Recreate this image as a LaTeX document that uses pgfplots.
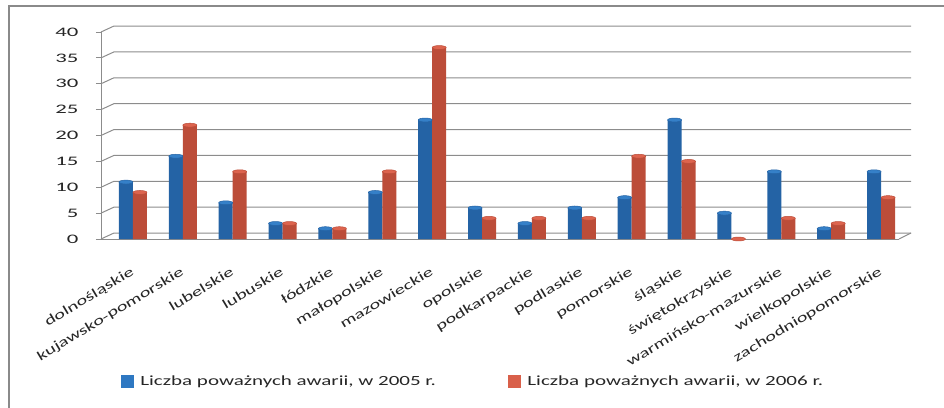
\documentclass[border=0pt]{standalone}
\usepackage{graphicx}
\usepackage{pgfplots}
\pgfplotsset{compat=1.18}
\usepackage{pgfplotstable}
\usepackage{fontspec}
\setmainfont{Carlito}
\definecolor{bluemid}{HTML}{3D8AD4}
\definecolor{blueedge}{HTML}{2463A5}
\definecolor{bluetop}{HTML}{3580C8}
\definecolor{redmid}{HTML}{E8745D}
\definecolor{rededge}{HTML}{BC4D39}
\definecolor{redtop}{HTML}{DD644E}
\definecolor{legblue}{HTML}{2E78C2}
\definecolor{legred}{HTML}{D9604A}
\definecolor{gridgray}{HTML}{8C8C8C}
\definecolor{framegray}{HTML}{8A8A8A}
\newcommand{\lab}[1]{\scalebox{1.5}[1]{#1}}
\pgfplotstableread{
x a b
0 11 9
1 16 22
2 7 13
3 3 3
4 2 2
5 9 13
6 23 37
7 6 4
8 3 4
9 6 4
10 8 16
11 23 15
12 5 0
13 13 4
14 2 3
15 13 8
}\data
\begin{document}
\begin{tikzpicture}
\useasboundingbox (0pt,0pt) rectangle (944pt,407pt);
\draw[framegray, line width=1.3pt] (9pt,-5pt) -- (9pt,401pt) -- (950pt,401pt);
\begin{axis}[
  at={(101pt,168pt)}, anchor=south west,
  scale only axis, width=798pt, height=207pt,
  xmin=-0.5, xmax=15.5, ymin=0, ymax=40,
  axis x line*=bottom, axis y line*=left,
  axis line style={gridgray, line width=1pt},
  xtick={0,...,15},
  xticklabels={\lab{dolnośląskie},\lab{kujawsko-pomorskie},\lab{lubelskie},\lab{lubuskie},\lab{łódzkie},\lab{małopolskie},\lab{mazowieckie},\lab{opolskie},\lab{podkarpackie},\lab{podlaskie},\lab{pomorskie},\lab{śląskie},\lab{świętokrzyskie},\lab{warmińsko-mazurskie},\lab{wielkopolskie},\lab{zachodniopomorskie}},
  xtick style={draw=none},
  minor xtick={-0.5,0.5,...,15.5},
  minor tick length=5pt,
  minor tick style={gridgray, line width=1pt},
  ytick={0,5,...,40},
  ytick style={gridgray, line width=1pt},
  major tick length=5pt,
  tick align=outside,
  yticklabel={\scalebox{1.75}[1]{\pgfmathprintnumber[assume math mode=true]{\tick}}},
  yticklabel style={font=\fontsize{13}{15}\selectfont, text=black!85, xshift=-14pt},
  xticklabel style={font=\fontsize{13.5}{16}\selectfont, text=black!85, xshift=4pt, yshift=-22pt, rotate=31, anchor=north east, inner sep=0pt},
  legend style={draw=none, fill=none, at={(0.021,-0.686)}, anchor=west, legend columns=2, font=\fontsize{14}{16}\selectfont, text=black!85, /tikz/every even column/.append style={column sep=70pt}},
  legend cell align=left,
  clip=false,
]
\foreach \yy in {0,5,10,15,20,25,30,35,40}{
  \edef\tmp{\noexpand\draw[gridgray, line width=1pt] (axis cs:-0.5,\yy) -- ([xshift=13pt,yshift=6pt]axis cs:-0.5,\yy) -- ([xshift=12pt,yshift=6pt]axis cs:15.5,\yy);}
  \tmp
}
\draw[gridgray, line width=1pt] (axis cs:15.5,0) -- ([xshift=12pt,yshift=6pt]axis cs:15.5,0);
\addplot[ybar, bar width=14pt, bar shift=0pt, draw=none, left color=blueedge, middle color=bluemid, right color=blueedge, forget plot,
  mark=*, mark size=7pt, mark options={draw=blueedge, fill=bluetop, line width=0.5pt, yscale=0.28}] table[x=x,y=a]{\data};
\addplot[ybar, bar width=14pt, bar shift=0pt, draw=none, left color=rededge, middle color=redmid, right color=rededge, forget plot,
  mark=*, mark size=7pt, mark options={draw=rededge, fill=redtop, line width=0.5pt, yscale=0.28}] table[x expr=\thisrow{x}+0.2807,y=b]{\data};
\addlegendimage{legend image code/.code={\fill[legblue] (0pt,-6pt) rectangle (12pt,6pt); \path (17pt,0pt);}}
\addlegendentry{\lab{Liczba poważnych awarii, w 2005 r.}}
\addlegendimage{legend image code/.code={\fill[legred] (0pt,-6pt) rectangle (12pt,6pt); \path (17pt,0pt);}}
\addlegendentry{\lab{Liczba poważnych awarii, w 2006 r.}}
\end{axis}
\end{tikzpicture}
\end{document}
